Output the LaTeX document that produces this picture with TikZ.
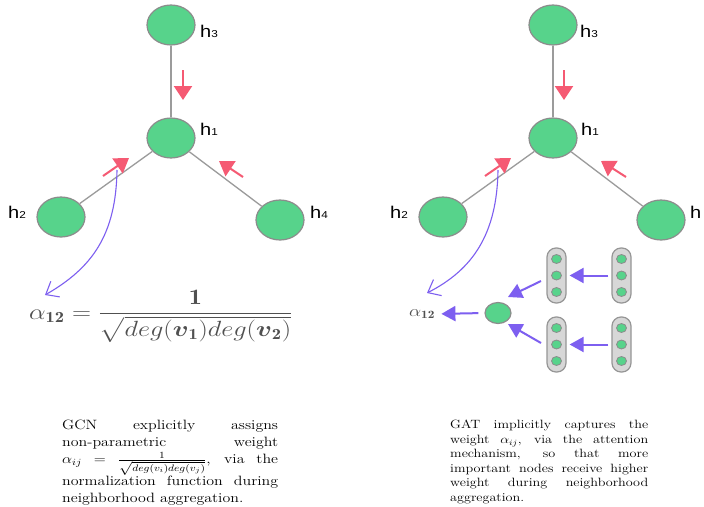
\RequirePackage{fix-cm}
\documentclass[tikz,border=0pt]{standalone}
\usepackage{amsmath}
\usepackage{fontspec}
\newfontfamily\labfont{Liberation Sans}
\usetikzlibrary{shapes.geometric,arrows.meta}
\definecolor{nodegreen}{RGB}{87,211,139}
\definecolor{nodeborder}{RGB}{140,140,140}
\definecolor{edgegray}{RGB}{155,155,155}
\definecolor{redarrow}{RGB}{245,90,115}
\definecolor{purplec}{RGB}{125,95,240}
\definecolor{formulagray}{RGB}{80,80,80}
\definecolor{boxfill}{RGB}{215,215,215}
\definecolor{boxborder}{RGB}{150,150,150}
\newcommand\hlab[1]{\scalebox{1.18}[1]{\labfont\fontsize{17}{17}\selectfont h\fontsize{10}{10}\selectfont #1}}
\begin{document}
\begin{tikzpicture}[x=1pt,y=-1pt,
  gnode/.style={ellipse, draw=nodeborder, line width=1.2pt, fill=nodegreen, minimum width=48pt, minimum height=40pt, inner sep=0pt},
  gedge/.style={draw=edgegray, line width=1.3pt},
  lab/.style={anchor=base west, inner sep=0pt},
  redarr/.style={draw=redarrow, line width=2pt, -{Triangle[length=14pt,width=18pt]}},
  pcurve/.style={draw=purplec, line width=1.1pt, -{Straight Barb[length=11pt,width=18pt]}},
  parr/.style={draw=purplec, line width=2pt, -{Triangle[length=14pt,width=15pt]}},
  vbox/.style={rectangle, rounded corners=9pt, draw=boxborder, fill=boxfill, line width=1.2pt, minimum width=19pt, minimum height=55pt, inner sep=0pt},
  gdot/.style={ellipse, draw=nodeborder, fill=nodegreen, line width=0.8pt, minimum width=10pt, minimum height=9pt, inner sep=0pt},
  txt/.style={anchor=north west, inner sep=0pt, align=left}
]
\fill[white] (0,0) rectangle (704,506);
\useasboundingbox (0,0) rectangle (704,506);

% ---------- left graph (GCN) ----------
\node[gnode] (L3) at (171,25) {};
\node[gnode] (L1) at (171,138) {};
\node[gnode] (L2) at (61,217) {};
\node[gnode] (L4) at (280,220) {};
\draw[gedge] (L3) -- (L1);
\draw[gedge] (L1) -- (L2);
\draw[gedge] (L1) -- (L4);
\node[lab] (tL3) at (200,37) {\hlab{3}};
\node[lab] (tL1) at (200,135) {\hlab{1}};
\node[lab] (tL2) at (8,218) {\hlab{2}};
\node[lab] (tL4) at (310,218) {\hlab{4}};

\coordinate (la1s) at (183,70);  \coordinate (la1e) at (183,100);
\coordinate (la2s) at (103,176); \coordinate (la2e) at (129,158);
\coordinate (la3s) at (243,177); \coordinate (la3e) at (219,161);
\draw[redarr] (la1s) -- (la1e);
\draw[redarr] (la2s) -- (la2e);
\draw[redarr] (la3s) -- (la3e);

\coordinate (lcs) at (117,170); \coordinate (lce) at (45,295);
\draw[pcurve] (lcs) .. controls (116,235) and (92,268) .. (lce);

\node[anchor=base west, inner sep=0pt, text=formulagray] (form) at (29,319)
  {\scalebox{1.2}[1]{\fontsize{22}{26}\selectfont $\alpha_{\mathbf{12}} = \dfrac{\mathbf{1}}{\sqrt{deg(\boldsymbol{v}_{\mathbf{1}})deg(\boldsymbol{v}_{\mathbf{2}})}}$}};

% ---------- right graph (GAT) ----------
\node[gnode] (R3) at (553,25) {};
\node[gnode] (R1) at (553,138) {};
\node[gnode] (R2) at (443,217) {};
\node[gnode] (R4) at (661,220) {};
\draw[gedge] (R3) -- (R1);
\draw[gedge] (R1) -- (R2);
\draw[gedge] (R1) -- (R4);
\node[lab] (tR3) at (580,37) {\hlab{3}};
\node[lab] (tR1) at (581,135) {\hlab{1}};
\node[lab] (tR2) at (390,218) {\hlab{2}};
\node[lab] (tR4) at (690,218) {\scalebox{1.18}[1]{\labfont\fontsize{17}{17}\selectfont h}};

\coordinate (ra1s) at (564,70);  \coordinate (ra1e) at (564,100);
\coordinate (ra2s) at (485,176); \coordinate (ra2e) at (511,158);
\coordinate (ra3s) at (626,177); \coordinate (ra3e) at (601,161);
\draw[redarr] (ra1s) -- (ra1e);
\draw[redarr] (ra2s) -- (ra2e);
\draw[redarr] (ra3s) -- (ra3e);

\coordinate (rcs) at (498,170); \coordinate (rce) at (427,293);
\draw[pcurve] (rcs) .. controls (497,235) and (472,270) .. (rce);

% attention mechanism
\node[vbox] (B1) at (556.5,275.5) {};
\node[vbox] (B2) at (621.5,275.5) {};
\node[vbox] (B3) at (556.5,344.5) {};
\node[vbox] (B4) at (621.5,344.5) {};
\foreach \b in {B1,B2,B3,B4}{
  \node[gdot] (\b a) at ([yshift=16.5pt]\b.center) {};
  \node[gdot] (\b b) at (\b.center) {};
  \node[gdot] (\b c) at ([yshift=-16.5pt]\b.center) {};
}
\node[gnode, minimum width=26pt, minimum height=21pt] (S) at (498,313) {};
\node[anchor=west, inner sep=0pt, text=formulagray] (a12) at (409,314)
  {\scalebox{1.2}[1]{\fontsize{16}{18}\selectfont $\alpha_{\mathbf{12}}$}};

\draw[parr, shorten <=3pt, shorten >=3pt] (B2.west) -- (B1.east);
\draw[parr, shorten <=3pt, shorten >=3pt] (B4.west) -- (B3.east);
\coordinate (u1) at (541,281); \coordinate (u2) at (508,297);
\coordinate (d1) at (541,343); \coordinate (d2) at (508,324);
\draw[parr] (u1) -- (u2);
\draw[parr] (d1) -- (d2);
\draw[parr, shorten <=6pt, shorten >=6pt] (S.west) -- (a12.east);

% ---------- captions ----------
\node[txt] (gcn) at (62,420) {\scalebox{1.18}[1]{\parbox[t]{183pt}{\fontsize{13.5}{17}\selectfont
\makebox[\linewidth][s]{GCN explicitly assigns}\\
\makebox[\linewidth][s]{non-parametric weight}\\
\makebox[\linewidth][s]{$\alpha_{ij}$ $=$ $\frac{1}{\sqrt{deg(v_i)deg(v_j)}}$, via the}\\
\makebox[\linewidth][s]{normalization function during}\\
neighborhood aggregation.}}};

\node[txt] (gat) at (450,420) {\scalebox{1.18}[1]{\parbox[t]{167.8pt}{\fontsize{12}{14.5}\selectfont
\makebox[\linewidth][s]{GAT implicitly captures the}\\
\makebox[\linewidth][s]{weight $\alpha_{ij}$, via the attention}\\
\makebox[\linewidth][s]{mechanism, so that more}\\
\makebox[\linewidth][s]{important nodes receive higher}\\
\makebox[\linewidth][s]{weight during neighborhood}\\
aggregation.}}};
\end{tikzpicture}
\end{document}
